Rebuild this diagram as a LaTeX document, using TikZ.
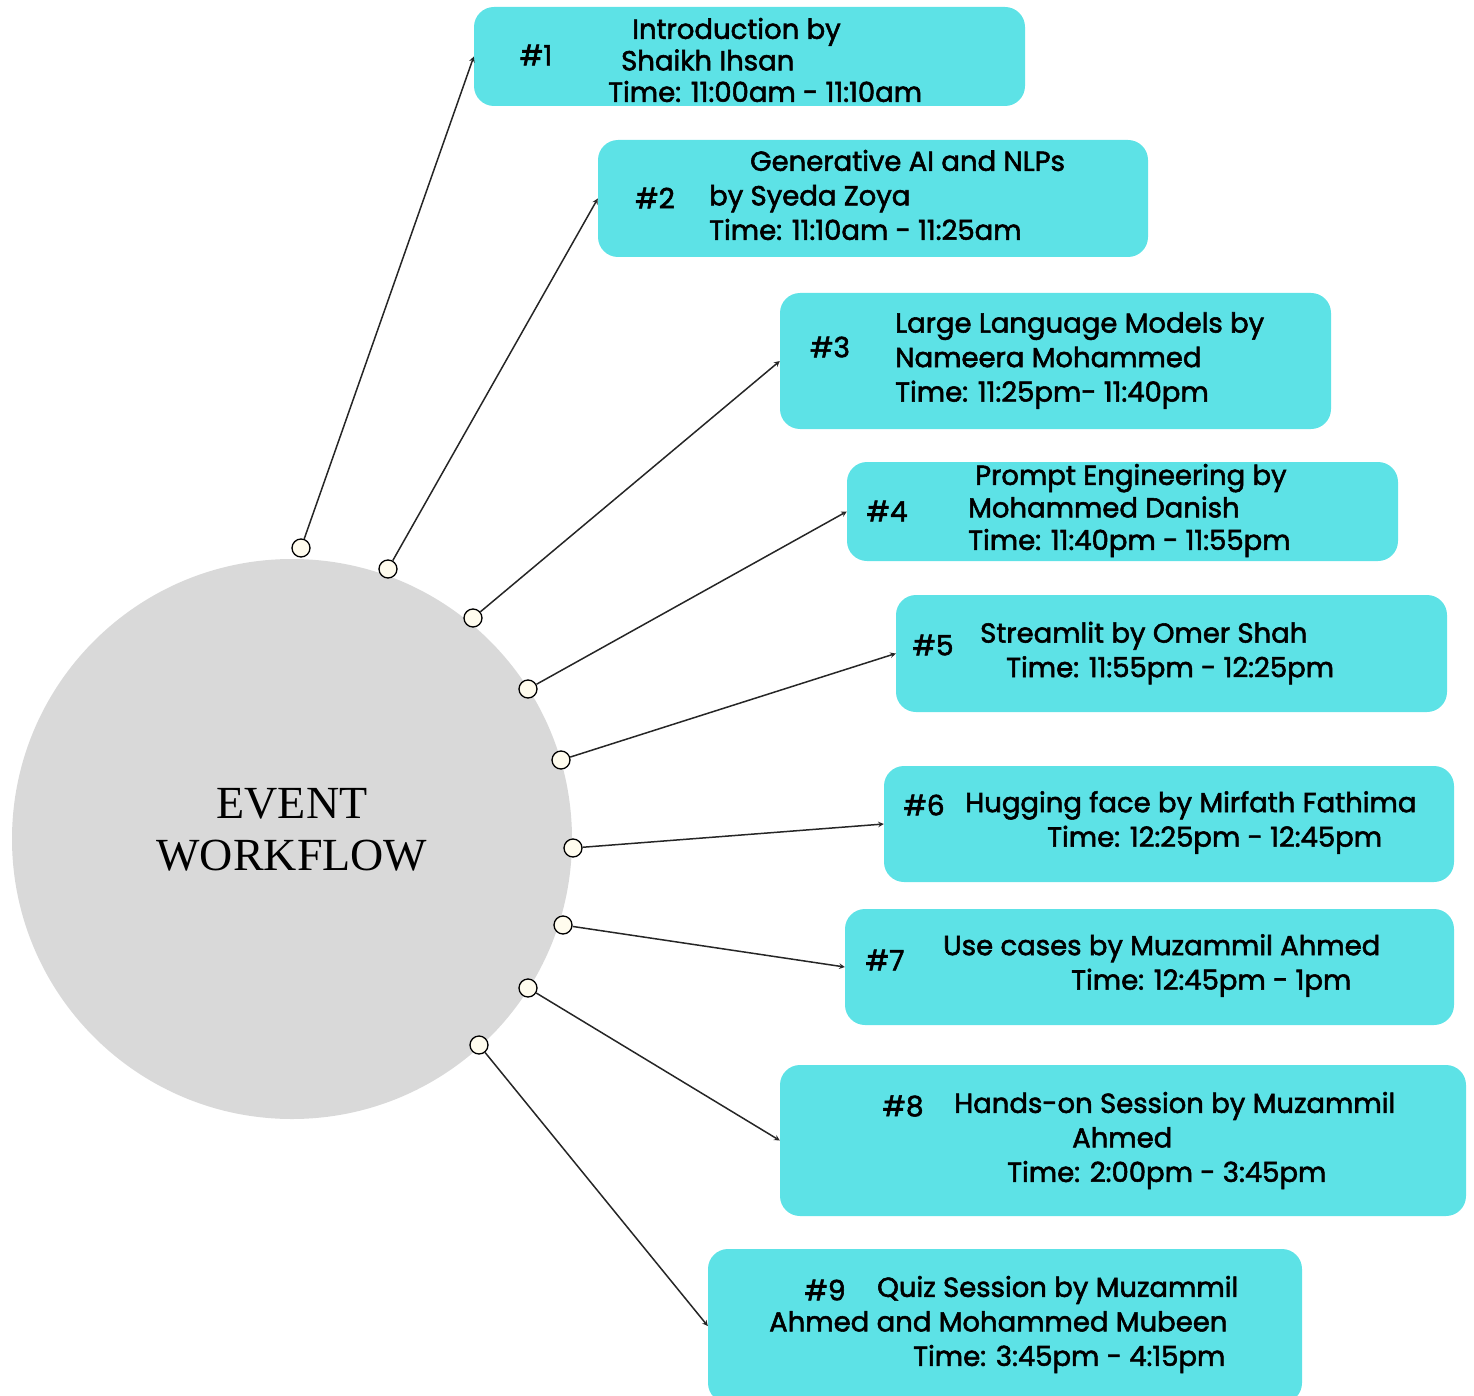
\documentclass[tikz,border=0pt]{standalone}
\usepackage{fontspec}
\setmainfont{Poppins}[FakeBold=2]
\newfontfamily\titlefont{Liberation Serif}
\usepackage{tikz}
\usetikzlibrary{arrows}
\usetikzlibrary{shapes}
\usetikzlibrary{positioning}
\definecolor{slotcyan}{HTML}{5DE2E6}
\definecolor{hubgray}{HTML}{D9D9D9}
\definecolor{pincream}{HTML}{FFFCEE}
\tikzstyle{slot} = [
    rectangle,
    rounded corners=20pt,
    fill=slotcyan,
    draw=none,
    inner sep=0pt
]
\tikzstyle{hub}  = [
    circle,
    fill=hubgray,
    draw=none,
    minimum size=560pt,
    inner sep=0pt
]
\tikzstyle{pin}  = [
    circle,
    draw=black,
    fill=pincream,
    line width=1.3pt,
    minimum size=18pt,
    inner sep=0pt
]
\tikzstyle{tran} = [
    draw=black!85,
    ->,
    >=stealth,
    line width=1.5pt
]
\tikzstyle{num}  = [inner sep=0pt, font=\fontsize{28}{28}\selectfont]
\tikzstyle{info} = [inner sep=0pt, anchor=west, align=left, font=\fontsize{27.5}{34.5}\selectfont]

\begin{document}
\begin{tikzpicture}[x=1pt, y=-1pt]
\useasboundingbox (0,0) rectangle (1474,1396);

\node[hub] (hub) at (292,839) {};
\node[align=center, inner sep=0pt, font=\titlefont\fontsize{46}{52}\selectfont] (title) at (292,830) {EVENT\\WORKFLOW};

% session boxes
\node[slot, minimum width=551pt, minimum height=99pt]  (s1) at (749.5,56.5)  {};
\node[slot, minimum width=550pt, minimum height=117pt] (s2) at (873,198.5)   {};
\node[slot, minimum width=551pt, minimum height=136pt] (s3) at (1055.5,361)  {};
\node[slot, minimum width=551pt, minimum height=99pt]  (s4) at (1122.5,511.5) {};
\node[slot, minimum width=551pt, minimum height=117pt] (s5) at (1171.5,653.5) {};
\node[slot, minimum width=570pt, minimum height=116pt] (s6) at (1169,824)    {};
\node[slot, minimum width=609pt, minimum height=116pt] (s7) at (1149.5,967)  {};
\node[slot, minimum width=686pt, minimum height=151pt] (s8) at (1123,1140.5) {};
\node[slot, minimum width=594pt, minimum height=154pt] (s9) at (1005,1326)   {};

\node[num] (n1) at (536,55)   {\#1};
\node[num] (n2) at (655,198)  {\#2};
\node[num] (n3) at (830,347)  {\#3};
\node[num] (n4) at (887,511)  {\#4};
\node[num] (n5) at (933,645)  {\#5};
\node[num] (n6) at (924,805)  {\#6};
\node[num] (n7) at (885,960)  {\#7};
\node[num] (n8) at (903,1106) {\#8};
\node[num] (n9) at (825,1290) {\#9};

\node[info, font=\fontsize{27.5}{31.5}\selectfont] (t1) at (608,60)
{\hspace*{24pt}Introduction by\\\hspace*{13pt}Shaikh Ihsan\\Time: 11:00am - 11:10am};
\node[info] (t2) at (709,195)
{\hspace*{41pt}Generative AI and NLPs\\by Syeda Zoya\\Time: 11:10am - 11:25am};
\node[info] (t3) at (895,360.5)
{Large Language Models by\\Nameera Mohammed\\Time: 11:25pm- 11:40pm};
\node[info, font=\fontsize{27.5}{32.5}\selectfont] (t4) at (968,510.5)
{\hspace*{7pt}Prompt Engineering by\\Mohammed Danish\\Time: 11:40pm - 11:55pm};
\node[info] (t5) at (980,653)
{Streamlit by Omer Shah\\\hspace*{26pt}Time: 11:55pm - 12:25pm};
\node[info] (t6) at (965,822.5)
{Hugging face by Mirfath Fathima\\\hspace*{82pt}Time: 12:25pm - 12:45pm};
\node[info] (t7) at (943,965.5)
{Use cases by Muzammil Ahmed\\\hspace*{128pt}Time: 12:45pm - 1pm};
\node[info] (t8) at (954,1140.5)
{Hands-on Session by Muzammil\\\hspace*{118pt}Ahmed\\\hspace*{53pt}Time: 2:00pm - 3:45pm};
\node[info] (t9) at (769,1324.5)
{\hspace*{108pt}Quiz Session by Muzammil\\Ahmed and Mohammed Mubeen\\\hspace*{144pt}Time: 3:45pm - 4:15pm};

% pins on the hub
\node[pin] (p1) at (301,548)  {};
\node[pin] (p2) at (388,569)  {};
\node[pin] (p3) at (473,618)  {};
\node[pin] (p4) at (528,689)  {};
\node[pin] (p5) at (561,760)  {};
\node[pin] (p6) at (573,848)  {};
\node[pin] (p7) at (563,925)  {};
\node[pin] (p8) at (528,988)  {};
\node[pin] (p9) at (479,1045) {};

\draw[tran] (p1) -- (s1.west);
\draw[tran] (p2) -- (s2.west);
\draw[tran] (p3) -- (s3.west);
\draw[tran] (p4) -- (s4.west);
\draw[tran] (p5) -- (s5.west);
\draw[tran] (p6) -- (s6.west);
\draw[tran] (p7) -- (s7.west);
\draw[tran] (p8) -- (s8.west);
\draw[tran] (p9) -- (s9.west);
\end{tikzpicture}
\end{document}
